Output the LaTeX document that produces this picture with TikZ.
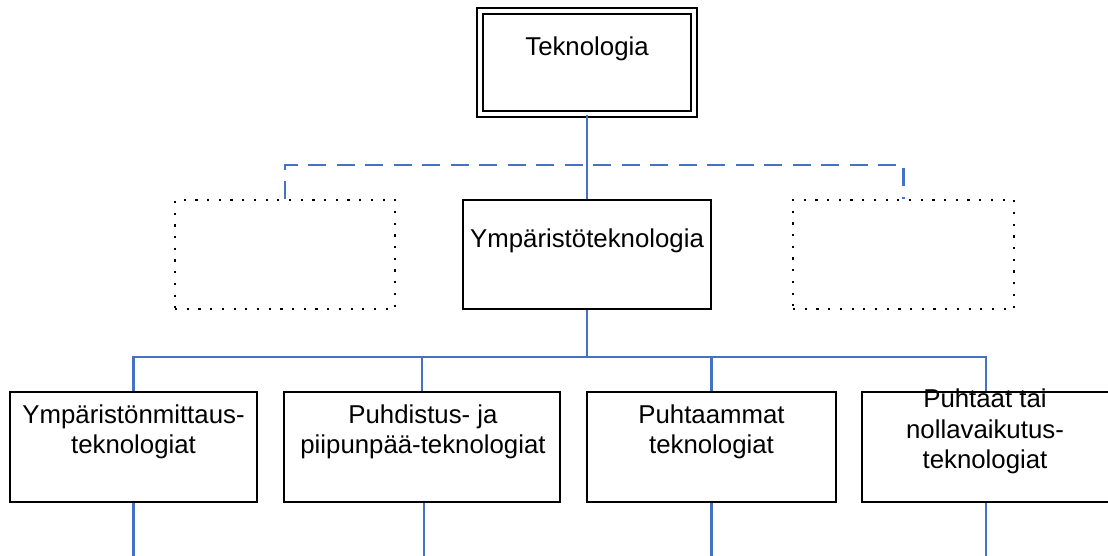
\documentclass[tikz,border=0pt]{standalone}
\usepackage{fontspec}
\setmainfont{Liberation Sans}
\definecolor{conblue}{HTML}{4472C4}
\begin{document}
\begin{tikzpicture}[x=1pt,y=-1pt,
  boxbase/.style={rectangle,inner sep=0pt,line width=2.4pt},
  solidbox/.style={boxbase,draw=black},
  dotbox/.style={boxbase,draw=black,line width=2.2pt,dash pattern=on 2.2pt off 9.5pt},
  topbox/.style={boxbase,draw=black,line width=2.2pt,double,double distance=3.8pt},
  conn/.style={draw=conblue,line width=2.4pt},
  dashconn/.style={conn,dash pattern=on 18pt off 10.5pt},
  lbl/.style={inner sep=0pt,align=center,anchor=base,font=\fontsize{25.8}{30.5}\selectfont}
]
\useasboundingbox (0,0) rectangle (1108,555);
% boxes
\node[topbox,minimum width=214pt,minimum height=103pt] (top) at (587,62.5) {};
\node[solidbox,minimum width=248pt,minimum height=109pt] (mid) at (587,254.5) {};
\node[dotbox,minimum width=220pt,minimum height=109pt] (dl) at (285,254.5) {};
\node[dotbox,minimum width=221pt,minimum height=109pt] (dr) at (903.5,254.5) {};
\node[solidbox,minimum width=247pt,minimum height=110pt] (b1) at (133.5,447) {};
\node[solidbox,minimum width=276pt,minimum height=110pt] (b2) at (422,447) {};
\node[solidbox,minimum width=249pt,minimum height=110pt] (b3) at (711.5,447) {};
\node[solidbox,minimum width=248pt,minimum height=110pt] (b4) at (986,447) {};
% labels (anchor base = baseline of the last line)
\node[lbl] (ttop) at (587,55) {Teknologia};
\node[lbl] (tmid) at (587,247) {Ympäristöteknologia};
\node[lbl] (t1) at (133.5,453.5) {Ympäristönmittaus-\\teknologiat};
\node[lbl] (t2) at (423,453.5) {Puhdistus- ja\\piipunpää-teknologiat};
\node[lbl] (t3) at (711.5,453.5) {Puhtaammat\\teknologiat};
\node[lbl] (t4) at (985,468.5) {Puhtaat tai\\nollavaikutus-\\teknologiat};
% connectors
\coordinate (dj) at (587,165);
\coordinate (bus) at (587,357);
\draw[conn] (top.south) -- (mid.north);
\draw[dashconn] (dl.north) |- (dj) -| (dr.north);
\draw[conn] (mid.south) -- (bus);
\draw[conn] (b1.north) |- (bus) -| (b4.north);
\draw[conn] (b2.north) |- (bus);
\draw[conn] (b3.north) |- (bus);
\coordinate (e1) at (133.5,556);
\coordinate (e2) at (424,556);
\coordinate (e3) at (711.5,556);
\coordinate (e4) at (986,556);
\draw[conn] (b1.south) -- (e1);
\draw[conn] (b2.south -| e2) -- (e2);
\draw[conn] (b3.south) -- (e3);
\draw[conn] (b4.south) -- (e4);
\end{tikzpicture}
\end{document}
